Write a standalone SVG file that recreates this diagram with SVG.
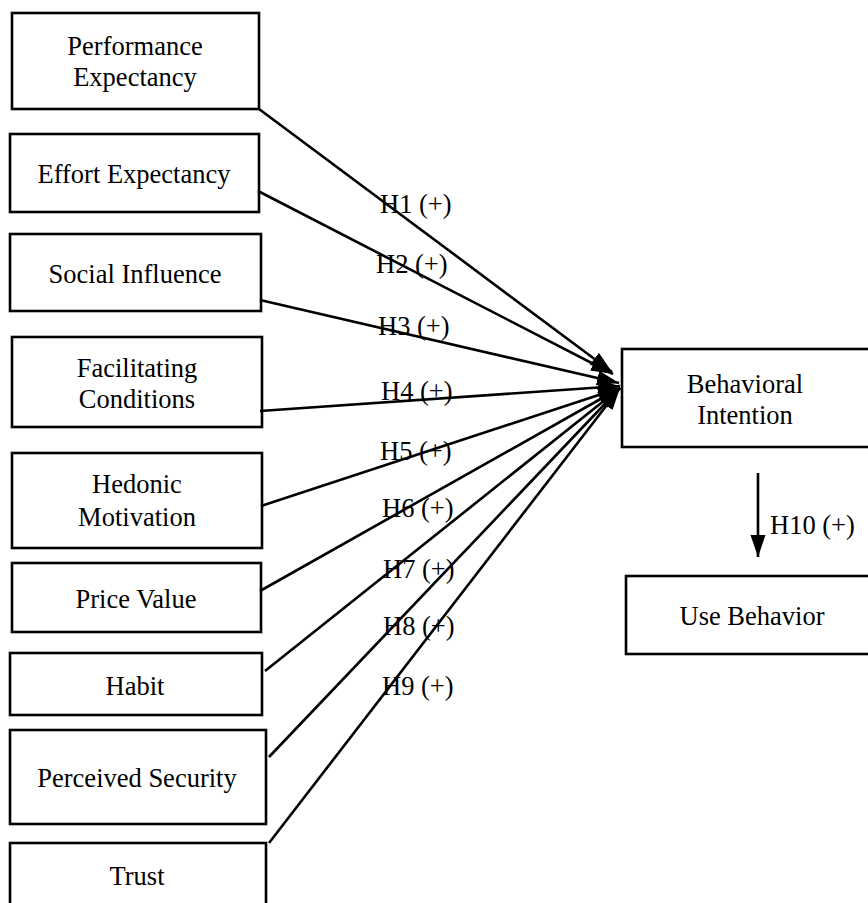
<svg xmlns="http://www.w3.org/2000/svg" width="868" height="903" viewBox="0 0 868 903">
<style>
.box{fill:#fff;stroke:#000;stroke-width:2.6}
.t{font-family:"Liberation Serif","Times New Roman",serif;font-size:26.5px;fill:#000;text-anchor:middle}
.l{font-family:"Liberation Serif","Times New Roman",serif;font-size:26.5px;fill:#000}
.c{stroke:#000;stroke-width:2.6;fill:none;marker-end:url(#ah)}
</style>
<defs>
<marker id="ah" markerUnits="userSpaceOnUse" markerWidth="24" markerHeight="18" refX="22" refY="9" orient="auto">
<path d="M0,1.5 L22,9 L0,16.5 Z" fill="#000"/>
</marker>
</defs>
<rect width="868" height="903" fill="#fff"/>
<g id="pe"><rect class="box" x="12" y="13" width="247" height="96"/><text class="t" x="135" y="55">Performance</text><text class="t" x="135" y="86">Expectancy</text></g>
<g id="ee"><rect class="box" x="10" y="134" width="249" height="78"/><text class="t" x="134" y="183">Effort Expectancy</text></g>
<g id="si"><rect class="box" x="10" y="234" width="251" height="77"/><text class="t" x="135" y="283">Social Influence</text></g>
<g id="fc"><rect class="box" x="12" y="337" width="250" height="90"/><text class="t" x="137" y="377">Facilitating</text><text class="t" x="137" y="408">Conditions</text></g>
<g id="hm"><rect class="box" x="12" y="453" width="250" height="95"/><text class="t" x="137" y="493">Hedonic</text><text class="t" x="137" y="526">Motivation</text></g>
<g id="pv"><rect class="box" x="12" y="563" width="249" height="69"/><text class="t" x="136" y="608">Price Value</text></g>
<g id="hb"><rect class="box" x="10" y="653" width="252" height="62"/><text class="t" x="135" y="695">Habit</text></g>
<g id="ps"><rect class="box" x="10" y="730" width="256" height="94"/><text class="t" x="137" y="787">Perceived Security</text></g>
<g id="tr"><rect class="box" x="10" y="843" width="256" height="70"/><text class="t" x="137" y="885">Trust</text></g>
<g id="bi"><rect class="box" x="622" y="349" width="250" height="98"/><text class="t" x="745" y="393">Behavioral</text><text class="t" x="745" y="424">Intention</text></g>
<g id="ub"><rect class="box" x="626" y="576" width="255" height="78"/><text class="t" x="752" y="625">Use Behavior</text></g>
<g id="connectors">
<line class="c" x1="259" y1="109" x2="612" y2="372"/>
<line class="c" x1="258" y1="191" x2="613" y2="374"/>
<line class="c" x1="260" y1="300" x2="619" y2="383"/>
<line class="c" x1="260" y1="411" x2="620" y2="386"/>
<line class="c" x1="261" y1="506" x2="620" y2="388"/>
<line class="c" x1="260" y1="591" x2="620" y2="388"/>
<line class="c" x1="265" y1="671" x2="620" y2="388"/>
<line class="c" x1="269" y1="757" x2="620" y2="388"/>
<line class="c" x1="269" y1="843" x2="620" y2="388"/>
<line class="c" x1="758" y1="473" x2="758" y2="557"/>
<text class="l" x="380" y="213">H1 (+)</text>
<text class="l" x="376" y="273">H2 (+)</text>
<text class="l" x="378" y="335">H3 (+)</text>
<text class="l" x="381" y="400">H4 (+)</text>
<text class="l" x="380" y="460">H5 (+)</text>
<text class="l" x="382" y="517">H6 (+)</text>
<text class="l" x="383" y="578">H7 (+)</text>
<text class="l" x="383" y="635">H8 (+)</text>
<text class="l" x="382" y="695">H9 (+)</text>
<text class="l" x="770" y="534">H10 (+)</text>
</g>
</svg>
